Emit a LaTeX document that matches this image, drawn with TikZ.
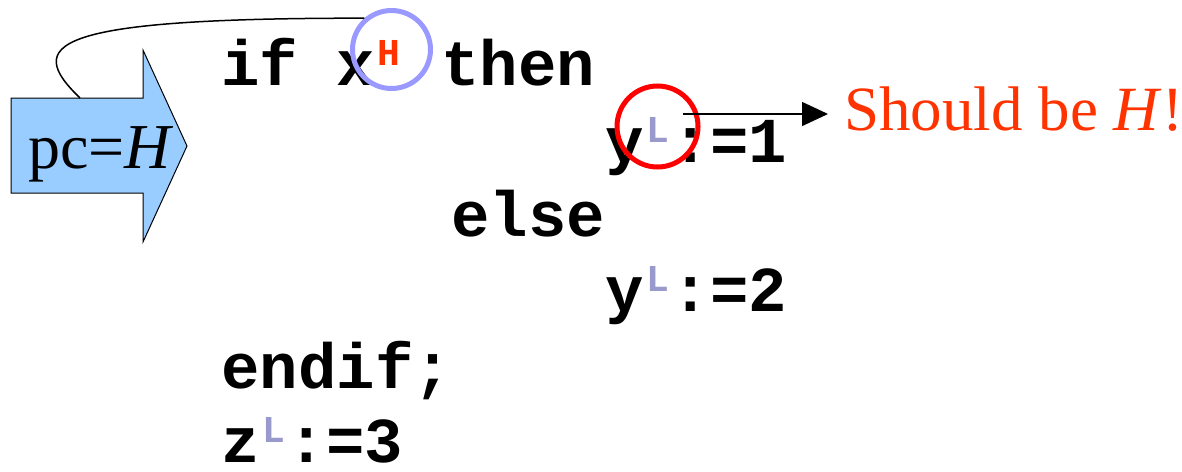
\documentclass[tikz,border=0pt]{standalone}
\usepackage{fontspec}
\setmainfont{Liberation Serif}
\setmonofont{Liberation Mono}
\usepackage{xcolor}
\usepackage{tikz}
\usetikzlibrary{arrows.meta}

\definecolor{secH}{HTML}{FF3300}
\definecolor{secL}{HTML}{9999CC}
\definecolor{ringblue}{HTML}{9999FF}
\definecolor{pcblue}{HTML}{99CCFF}
\newcommand{\lvl}[2]{\raisebox{10pt}{\makebox[14pt]{\fontsize{19}{19}\selectfont\color{#1}#2}}}

\begin{document}
\begin{tikzpicture}[x=0.5pt,y=-0.5pt,
    code/.style={anchor=base west,inner sep=0pt,text depth=0pt,font=\fontsize{32}{32}\selectfont\ttfamily\bfseries},
    ring/.style={circle,line width=2.5pt,inner sep=0pt}]
		\useasboundingbox (0,0) rectangle (1182,471);
		% program counter arrow
		\draw[fill=pcblue,line width=0.5pt] (11,98) -- (143,98) -- (143,50) -- (187,146) -- (143,242) -- (143,193) -- (11,193) -- cycle;
		\node[anchor=base west,inner sep=0pt,font=\fontsize{32}{32}\selectfont] (pclabel) at (28,168) {pc=\textit{H}};
		\coordinate (pctop) at (80,98);
		% program text
		\node[code] (ifline) at (221,85) {if x\lvl{secH}{H} then};
		\node[code] (yone) at (605,162) {y\lvl{secL}{L}:=1};
		\node[code] (elseline) at (451,236) {else};
		\node[code] (ytwo) at (605,311) {y\lvl{secL}{L}:=2};
		\node[code] (endifline) at (221,388) {endif;};
		\node[code] (zline) at (221,462) {z\lvl{secL}{L}:=3};
		% marks
		\node[ring,draw=ringblue,minimum size=39pt] (bluering) at (391.5,49.5) {};
		\node[ring,draw=red,minimum size=40.5pt] (redring) at (657.5,126.5) {};
		\draw[line width=0.75pt] (pctop) .. controls (25,45) and (45,18) .. (bluering.131);
		\coordinate (flagstart) at (683,114);
		\node[anchor=base west,inner sep=0pt,text=secH,font=\fontsize{31.5}{32}\selectfont] (should) at (844,130) {Should be \textit{H}!};
		\draw[line width=0.75pt,shorten >=8pt,-{Triangle[length=13pt,width=12pt]}] (flagstart) -- (flagstart -| should.west);
	\end{tikzpicture}
\end{document}
